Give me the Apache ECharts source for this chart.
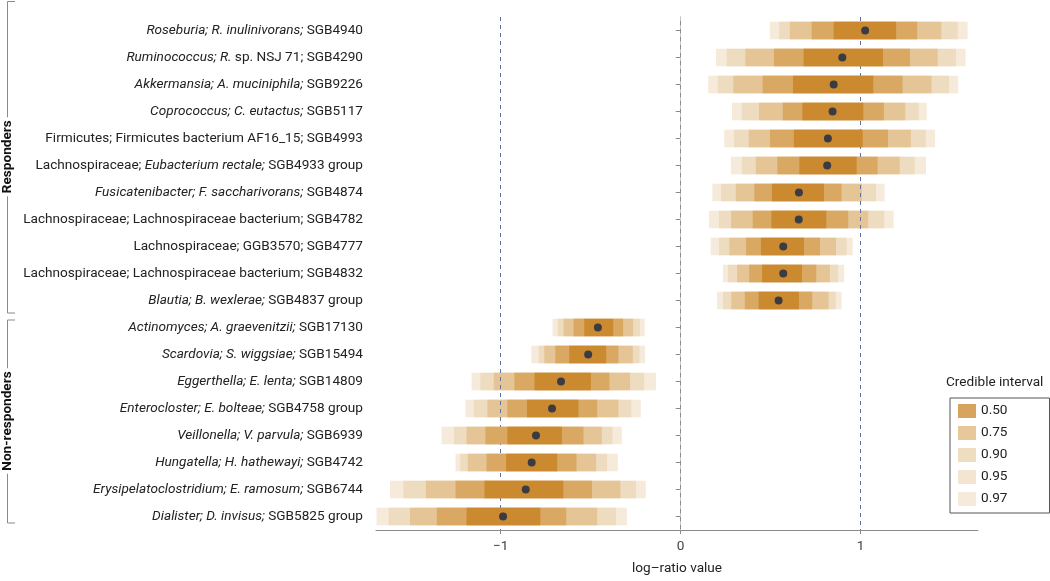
<!DOCTYPE html>
<html>
<head>
<meta charset="utf-8">
<script src="https://cdn.jsdelivr.net/npm/echarts@6/dist/echarts.min.js"></script>
<style>
html,body{margin:0;padding:0;background:#fff;}
#chart{width:1050px;height:581px;}
</style>
</head>
<body>
<div id="chart"></div>
<script>
// ---- Data ----
var labels = [
  "*Roseburia; R. inulinivorans;* SGB4940",
  "*Ruminococcus; R.* sp. NSJ 71; SGB4290",
  "*Akkermansia; A. muciniphila;* SGB9226",
  "*Coprococcus; C. eutactus;* SGB5117",
  "Firmicutes; Firmicutes bacterium AF16_15; SGB4993",
  "Lachnospiraceae; *Eubacterium rectale;* SGB4933 group",
  "*Fusicatenibacter; F. saccharivorans;* SGB4874",
  "Lachnospiraceae; Lachnospiraceae bacterium; SGB4782",
  "Lachnospiraceae; GGB3570; SGB4777",
  "Lachnospiraceae; Lachnospiraceae bacterium; SGB4832",
  "*Blautia; B. wexlerae;* SGB4837 group",
  "*Actinomyces; A. graevenitzii;* SGB17130",
  "*Scardovia; S. wiggsiae;* SGB15494",
  "*Eggerthella; E. lenta;* SGB14809",
  "*Enterocloster; E. bolteae;* SGB4758 group",
  "*Veillonella; V. parvula;* SGB6939",
  "*Hungatella; H. hathewayi;* SGB4742",
  "*Erysipelatoclostridium; E. ramosum;* SGB6744",
  "*Dialister; D. invisus;* SGB5825 group"
];
var groups = ["Responders", "Non-responders"];
var groupSizes = [11, 8];

var median = [1.025, 0.898, 0.850, 0.844, 0.818, 0.814, 0.657, 0.656, 0.570, 0.570, 0.544,
  -0.460, -0.514, -0.665, -0.715, -0.804, -0.828, -0.861, -0.987];

var lo50 = [0.850, 0.683, 0.624, 0.676, 0.629, 0.659, 0.507, 0.504, 0.446, 0.452, 0.433,
  -0.536, -0.619, -0.812, -0.854, -0.963, -0.970, -1.090, -1.190];
var hi50 = [1.197, 1.124, 1.070, 1.015, 1.011, 0.978, 0.796, 0.809, 0.685, 0.674, 0.657,
  -0.375, -0.414, -0.499, -0.568, -0.660, -0.686, -0.652, -0.780];

var lo75 = [0.728, 0.518, 0.455, 0.567, 0.496, 0.537, 0.409, 0.400, 0.363, 0.381, 0.356,
  -0.595, -0.697, -0.924, -0.963, -1.085, -1.079, -1.251, -1.355];
var hi75 = [1.314, 1.274, 1.233, 1.129, 1.152, 1.094, 0.894, 0.931, 0.774, 0.753, 0.731,
  -0.320, -0.346, -0.396, -0.464, -0.540, -0.579, -0.493, -0.636];

var lo90 = [0.606, 0.359, 0.292, 0.435, 0.378, 0.417, 0.306, 0.280, 0.270, 0.313, 0.281,
  -0.651, -0.758, -1.039, -1.074, -1.190, -1.183, -1.416, -1.504];
var hi90 = [1.448, 1.428, 1.394, 1.248, 1.279, 1.217, 1.007, 1.042, 0.863, 0.829, 0.822,
  -0.264, -0.266, -0.281, -0.346, -0.438, -0.470, -0.335, -0.464];

var lo95 = [0.547, 0.255, 0.206, 0.339, 0.296, 0.340, 0.224, 0.213, 0.213, 0.263, 0.235,
  -0.684, -0.789, -1.113, -1.150, -1.260, -1.225, -1.541, -1.623];
var hi95 = [1.539, 1.529, 1.491, 1.322, 1.361, 1.301, 1.085, 1.131, 0.922, 0.874, 0.862,
  -0.226, -0.229, -0.203, -0.274, -0.379, -0.409, -0.248, -0.359];

var lo97 = [0.495, 0.196, 0.153, 0.285, 0.242, 0.279, 0.176, 0.157, 0.167, 0.235, 0.202,
  -0.712, -0.830, -1.162, -1.196, -1.329, -1.251, -1.615, -1.690];
var hi97 = [1.594, 1.583, 1.542, 1.367, 1.413, 1.363, 1.133, 1.183, 0.956, 0.909, 0.894,
  -0.200, -0.198, -0.137, -0.222, -0.327, -0.349, -0.194, -0.299];

var levelNames = ["0.50", "0.75", "0.90", "0.95", "0.97"];
var xTicks = [-1, 0, 1];
var refLines = [-1, 0, 1];

// ---- Styles ----
var FONT = "Roboto";
var FS = 13.6;
var bandFill = ["#cc8a30", "#d9a862", "#e5c596", "#eedcc0", "#f6eadb"];
var legendFill = ["#d6a45e", "#e6c89a", "#efddc0", "#f3e5d1", "#f6eadb"];
var refColors = ["#5f72a0", "#c3c7cf", "#5f72a0"];

var los = [lo50, lo75, lo90, lo95, lo97];
var his = [hi50, hi75, hi90, hi95, hi97];

function toRich(s) {
  return s.replace(/\*([^*]+)\*/g, function (m, t) { return "{i|" + t + "}"; });
}

function makeRender(fill) {
  return function (params, api) {
    var cat = api.value(2);
    var p1 = api.coord([api.value(0), cat]);
    var p2 = api.coord([api.value(1), cat]);
    var h = api.size([0, 1])[1] * 0.64;
    var cs = params.coordSys;
    var shape = echarts.graphic.clipRectByRect(
      { x: p1[0], y: p1[1] - h / 2, width: p2[0] - p1[0], height: h },
      { x: cs.x, y: cs.y, width: cs.width, height: cs.height });
    return shape && { type: 'rect', shape: shape, style: { fill: fill } };
  };
}

var series = [];
for (var k = 4; k >= 0; k--) {
  var d = [];
  for (var i = 0; i < labels.length; i++) d.push([los[k][i], his[k][i], i]);
  series.push({
    name: levelNames[k],
    type: 'custom',
    renderItem: makeRender(bandFill[k]),
    itemStyle: { color: legendFill[k] },
    encode: { x: [0, 1], y: 2 },
    data: d,
    z: 2 + (4 - k),
    silent: true
  });
}
var medData = median.map(function (v, i) { return [v, i]; });
series.push({
  type: 'scatter',
  data: [],
  z: 8,
  silent: true,
  markLine: {
    silent: true,
    symbol: 'none',
    label: { show: false },
    lineStyle: { type: [4, 4], width: 1 },
    data: refLines.map(function (v, i) {
      return { xAxis: v, lineStyle: { color: refColors[i], type: [4, 4], width: 1 } };
    })
  }
});
series.push({
  type: 'scatter',
  data: medData,
  symbolSize: 8,
  itemStyle: { color: '#172848' },
  z: 10,
  silent: true
});

var chart = echarts.init(document.getElementById('chart'), null, { renderer: 'canvas' });
var option = {
  backgroundColor: '#fff',
  animation: false,
  textStyle: { fontFamily: FONT },
  grid: { left: 376, right: 72, top: 17, bottom: 42, containLabel: false },
  xAxis: {
    type: 'value',
    min: -1.693,
    max: 1.652,
    name: 'log\u2013ratio value',
    nameLocation: 'middle',
    nameGap: 32,
    nameTextStyle: { fontFamily: FONT, fontSize: FS, color: '#222' },
    axisLine: { show: true, lineStyle: { color: '#8a8a8a', width: 1 } },
    axisTick: { show: true, length: 4, customValues: xTicks, lineStyle: { color: '#8a8a8a' } },
    axisLabel: {
      customValues: xTicks,
      fontFamily: FONT, fontSize: FS, color: '#444', margin: 10,
      formatter: function (v) { return v < 0 ? '\u2212' + Math.abs(v) : String(v); }
    },
    splitLine: { show: false }
  },
  yAxis: {
    type: 'category',
    inverse: true,
    data: labels,
    axisLine: { show: true, lineStyle: { color: '#8a8a8a', width: 1 } },
    axisTick: { show: true, length: 5, alignWithLabel: true, lineStyle: { color: '#8a8a8a' } },
    axisLabel: {
      fontFamily: FONT, fontSize: FS, color: '#222', margin: 13,
      formatter: function (v) { return toRich(v); },
      rich: { i: { fontFamily: FONT, fontSize: FS, color: '#222', fontStyle: 'italic' } }
    },
    splitLine: { show: false }
  },
  legend: {
    orient: 'vertical',
    left: 950,
    top: 398,
    data: levelNames,
    itemWidth: 18,
    itemHeight: 14,
    itemGap: 8,
    padding: [6, 42, 7, 8],
    borderColor: '#555',
    borderWidth: 1,
    borderRadius: 0,
    selectedMode: false,
    icon: 'rect',
    textStyle: { fontFamily: FONT, fontSize: FS, color: '#222' }
  },
  title: {
    text: 'Credible interval',
    left: 946,
    top: 376,
    padding: 0,
    textStyle: { fontFamily: FONT, fontSize: FS, fontWeight: 'normal', color: '#222' }
  },
  graphic: [],
  series: series
};
chart.setOption(option);

// group brackets, positioned from the category axis
var gfx = [];
var start = 0;
var bracketTop = [-30, -8], bracketBot = [12, 6];
for (var g = 0; g < groups.length; g++) {
  var y0 = chart.convertToPixel({ yAxisIndex: 0 }, start) + bracketTop[g];
  var y1 = chart.convertToPixel({ yAxisIndex: 0 }, start + groupSizes[g] - 1) + bracketBot[g];
  if (g === 0) y0 = Math.max(y0, 1);
  gfx.push({
    type: 'polyline', silent: true,
    shape: { points: [[15, y0 + 0.5], [7.5, y0 + 0.5], [7.5, y1 + 0.5], [15, y1 + 0.5]] },
    style: { stroke: '#8a8a8a', lineWidth: 1, fill: null }
  });
  gfx.push({
    type: 'text', silent: true,
    x: 7.5, y: (y0 + y1) / 2, rotation: Math.PI / 2,
    style: {
      text: groups[g], fontFamily: FONT, fontSize: FS, fontWeight: 'bold', fill: '#111',
      align: 'center', verticalAlign: 'middle', backgroundColor: '#fff', padding: [0, 3]
    }
  });
  start += groupSizes[g];
}
chart.setOption({ graphic: gfx });
</script>
</body>
</html>
